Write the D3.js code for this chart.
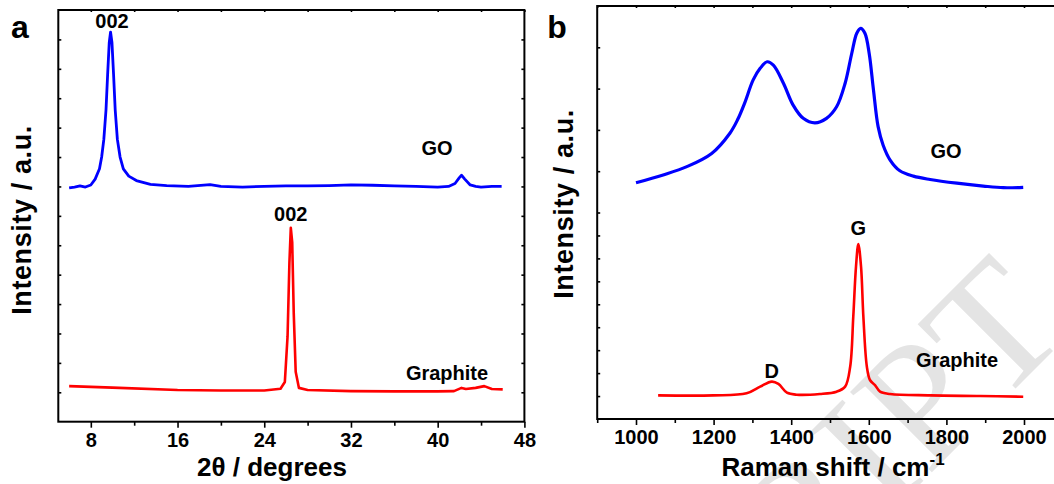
<!DOCTYPE html>
<html>
<head>
<meta charset="utf-8">
<script src="https://cdn.jsdelivr.net/npm/d3@7"></script>
<style>
  body { margin: 0; background: #fff; }
  text { font-family: "Liberation Sans", Arial, sans-serif; font-weight: bold; }
</style>
</head>
<body>
<script>
// ---- data ----
// panel a: XRD, [2theta, intensity (a.u.)]
const xrdGO = [[6.0,7.95],[6.5,7.98],[7.0,8.02],[7.5,7.98],[8.0,8.05],[8.4,8.25],[8.8,8.6],[9.0,9.0],[9.2,9.6],
  [9.4,10.6],[9.55,11.8],[9.7,12.9],[9.82,13.25],[9.95,12.9],[10.1,11.8],[10.25,10.6],[10.45,9.6],[10.7,9.0],
  [11.0,8.6],[11.5,8.35],[12.2,8.2],[13.5,8.07],[15,8.03],[17,8.0],[19,8.06],[20,8.0],[22,7.98],[24,8.0],
  [26,8.02],[28,8.02],[30,8.03],[32,8.05],[34,8.04],[36,8.02],[38,8.0],[40,7.98],[41,8.0],[41.6,8.1],
  [42.0,8.3],[42.2,8.38],[42.5,8.25],[43,8.05],[43.5,8.0],[44,7.98],[45,8.0],[45.9,8.0]];
const xrdGraphite = [[6.0,1.21],[10,1.16],[16,1.08],[20,1.06],[24,1.06],[25.5,1.12],[25.9,1.35],[26.15,2.9],
  [26.32,5.4],[26.45,6.59],[26.58,6.1],[26.72,3.7],[26.9,1.7],[27.2,1.15],[28,1.08],[32,1.04],[36,1.03],
  [40,1.03],[41.5,1.04],[42.2,1.15],[42.6,1.11],[43.5,1.15],[44.3,1.21],[45,1.11],[46,1.10]];
const xrdTicks = [8, 16, 24, 32, 40, 48];
const xrdMinor = [12, 20, 28, 36, 44];

// panel b: Raman, [shift (cm-1), intensity (a.u.)]
const ramanGO = [[1000,0.72],[1070,0.91],[1131,1.11],[1195,1.43],[1242,1.92],[1262,2.25],[1280,2.65],[1302,3.21],
  [1320,3.49],[1338,3.65],[1354,3.57],[1380,3.13],[1405,2.60],[1431,2.28],[1461,2.17],[1491,2.28],
  [1517,2.56],[1539,3.13],[1556,3.85],[1569,4.34],[1579,4.46],[1590,4.34],[1601,3.85],[1612,2.97],
  [1624,2.08],[1637,1.63],[1655,1.27],[1680,1.01],[1715,0.88],[1758,0.80],[1827,0.71],[1895,0.64],
  [1947,0.60],[1998,0.61]];
const ramanGraphite = [[1057,1.03],[1199,1.03],[1285,1.12],[1320,1.41],[1350,1.63],[1367,1.53],[1389,1.15],
  [1414,1.06],[1474,1.09],[1517,1.19],[1539,1.41],[1552,2.28],[1560,4.46],[1567,6.64],[1573,7.63],
  [1580,6.64],[1586,4.46],[1595,2.28],[1603,1.70],[1616,1.48],[1629,1.19],[1655,1.09],[1758,1.03],
  [1887,1.00],[1998,0.97]];
const ramanTicks = [1000, 1200, 1400, 1600, 1800, 2000];
const ramanMinor = [900, 1100, 1300, 1500, 1700, 1900];

var svg = d3.select("body").append("svg")
    .attr("width", 1054)
    .attr("height", 484);

// faint watermark behind everything
svg.append("text")
    .attr("transform", "translate(1072,332) rotate(-45)")
    .attr("text-anchor", "end")
    .style("font-family", "'Liberation Serif', serif")
    .style("font-weight", "normal")
    .attr("font-size", 175)
    .attr("fill", "#e4e4e4")
    .text("SCRIPT");

// ---------- panel a ----------
var xA = d3.scaleLinear().domain([5, 48]).range([58.3, 524.4]);
var yA = d3.scaleLinear().domain([0, 14]).range([421.7, 10]);

var gA = svg.append("g");

// ticks
gA.append("g").attr("transform", "translate(0,421.7)")
    .call(d3.axisBottom(xA).tickValues(xrdTicks).tickSize(6).tickPadding(5).tickFormat(d3.format("d")));
gA.append("g").attr("transform", "translate(0,421.7)")
    .call(d3.axisBottom(xA).tickValues(xrdMinor).tickSize(4).tickFormat(""));
gA.append("g").attr("transform", "translate(0,10)")
    .call(d3.axisTop(xA).tickValues(xrdTicks.concat(xrdMinor)).tickSize(-2).tickFormat(""));
gA.append("g").attr("transform", "translate(58.3,0)")
    .call(d3.axisLeft(yA).tickValues(d3.range(1, 14)).tickSize(-3).tickFormat(""));
gA.append("g").attr("transform", "translate(524.4,0)")
    .call(d3.axisRight(yA).tickValues(d3.range(1, 14)).tickSize(-3).tickFormat(""));

gA.append("rect")
    .attr("x", xA(5)).attr("y", yA(14))
    .attr("width", xA(48) - xA(5)).attr("height", yA(0) - yA(14))
    .attr("fill", "none").attr("stroke", "#000").attr("stroke-width", 2);

var lineA = d3.line().x(d => xA(d[0])).y(d => yA(d[1]));
gA.append("path").datum(xrdGO).attr("d", lineA)
    .attr("fill", "none").attr("stroke", "#0000ff").attr("stroke-width", 2.8).attr("stroke-linejoin", "round");
gA.append("path").datum(xrdGraphite).attr("d", lineA)
    .attr("fill", "none").attr("stroke", "#ff0000").attr("stroke-width", 2.6).attr("stroke-linejoin", "round");

// ---------- panel b ----------
var xB = d3.scaleLinear().domain([900, 2100]).range([597.2, 1062.8]);
var yBTop = d3.scaleLinear().domain([0, 5]).range([212.5, 6]);
var yBBot = d3.scaleLinear().domain([0, 9]).range([419, 212.5]);

var gB = svg.append("g");

gB.append("g").attr("transform", "translate(0,419)")
    .call(d3.axisBottom(xB).tickValues(ramanTicks).tickSize(6).tickPadding(5).tickFormat(d3.format("d")));
gB.append("g").attr("transform", "translate(0,419)")
    .call(d3.axisBottom(xB).tickValues(ramanMinor).tickSize(4).tickFormat(""));
gB.append("g").attr("transform", "translate(0,6)")
    .call(d3.axisTop(xB).tickValues(ramanTicks.concat(ramanMinor)).tickSize(-2).tickFormat(""));
gB.append("g").attr("transform", "translate(597.2,0)")
    .call(d3.axisLeft(yBTop).tickValues([1, 2, 3, 4]).tickSize(-3).tickFormat(""));
gB.append("g").attr("transform", "translate(597.2,0)")
    .call(d3.axisLeft(yBBot).tickValues(d3.range(1, 10)).tickSize(-3).tickFormat(""));

gB.append("rect")
    .attr("x", xB(900)).attr("y", yBTop(5))
    .attr("width", xB(2100) - xB(900)).attr("height", yBBot(0) - yBTop(5))
    .attr("fill", "none").attr("stroke", "#000").attr("stroke-width", 2);

var lineBTop = d3.line().x(d => xB(d[0])).y(d => yBTop(d[1])).curve(d3.curveCatmullRom);
var lineBBot = d3.line().x(d => xB(d[0])).y(d => yBBot(d[1])).curve(d3.curveCatmullRom);
gB.append("path").datum(ramanGO).attr("d", lineBTop)
    .attr("fill", "none").attr("stroke", "#0000ff").attr("stroke-width", 3.2).attr("stroke-linejoin", "round");
gB.append("path").datum(ramanGraphite).attr("d", lineBBot)
    .attr("fill", "none").attr("stroke", "#ff0000").attr("stroke-width", 2.6).attr("stroke-linejoin", "round");

// axis styling
svg.selectAll(".domain").remove();
svg.selectAll(".tick line").attr("stroke", "#000").attr("stroke-width", 1.6);
svg.selectAll(".tick text").attr("font-size", 20).attr("fill", "#000")
    .style("font-family", "'Liberation Sans', Arial, sans-serif").style("font-weight", "bold");

// ---------- labels ----------
function label(x, y, s, size) {
  return svg.append("text").attr("x", x).attr("y", y).attr("text-anchor", "middle")
      .attr("font-size", size).attr("fill", "#000").text(s);
}
label(20, 38, "a", 32);
label(557, 38, "b", 32);

label(112, 28, "002", 20);
label(437, 155, "GO", 20);
label(xA(26.45), 221, "002", 20);
label(447, 380, "Graphite", 20);

label(946, 158, "GO", 20);
label(xB(1573), 235, "G", 20);
label(xB(1350), 378, "D", 20);
label(957, 367, "Graphite", 20);

label(272, 476, "2\u03b8 / degrees", 26);
var rt = label(833, 476, "Raman shift / cm", 26);
rt.append("tspan").attr("font-size", 17).attr("dy", -11).text("-1");

svg.append("text").attr("transform", "translate(31,220) rotate(-90)")
    .attr("text-anchor", "middle").attr("font-size", 27).attr("letter-spacing", 0.6).text("Intensity / a.u.");
svg.append("text").attr("transform", "translate(573,204) rotate(-90)")
    .attr("text-anchor", "middle").attr("font-size", 27).attr("letter-spacing", 0.6).text("Intensity / a.u.");
</script>
</body>
</html>
